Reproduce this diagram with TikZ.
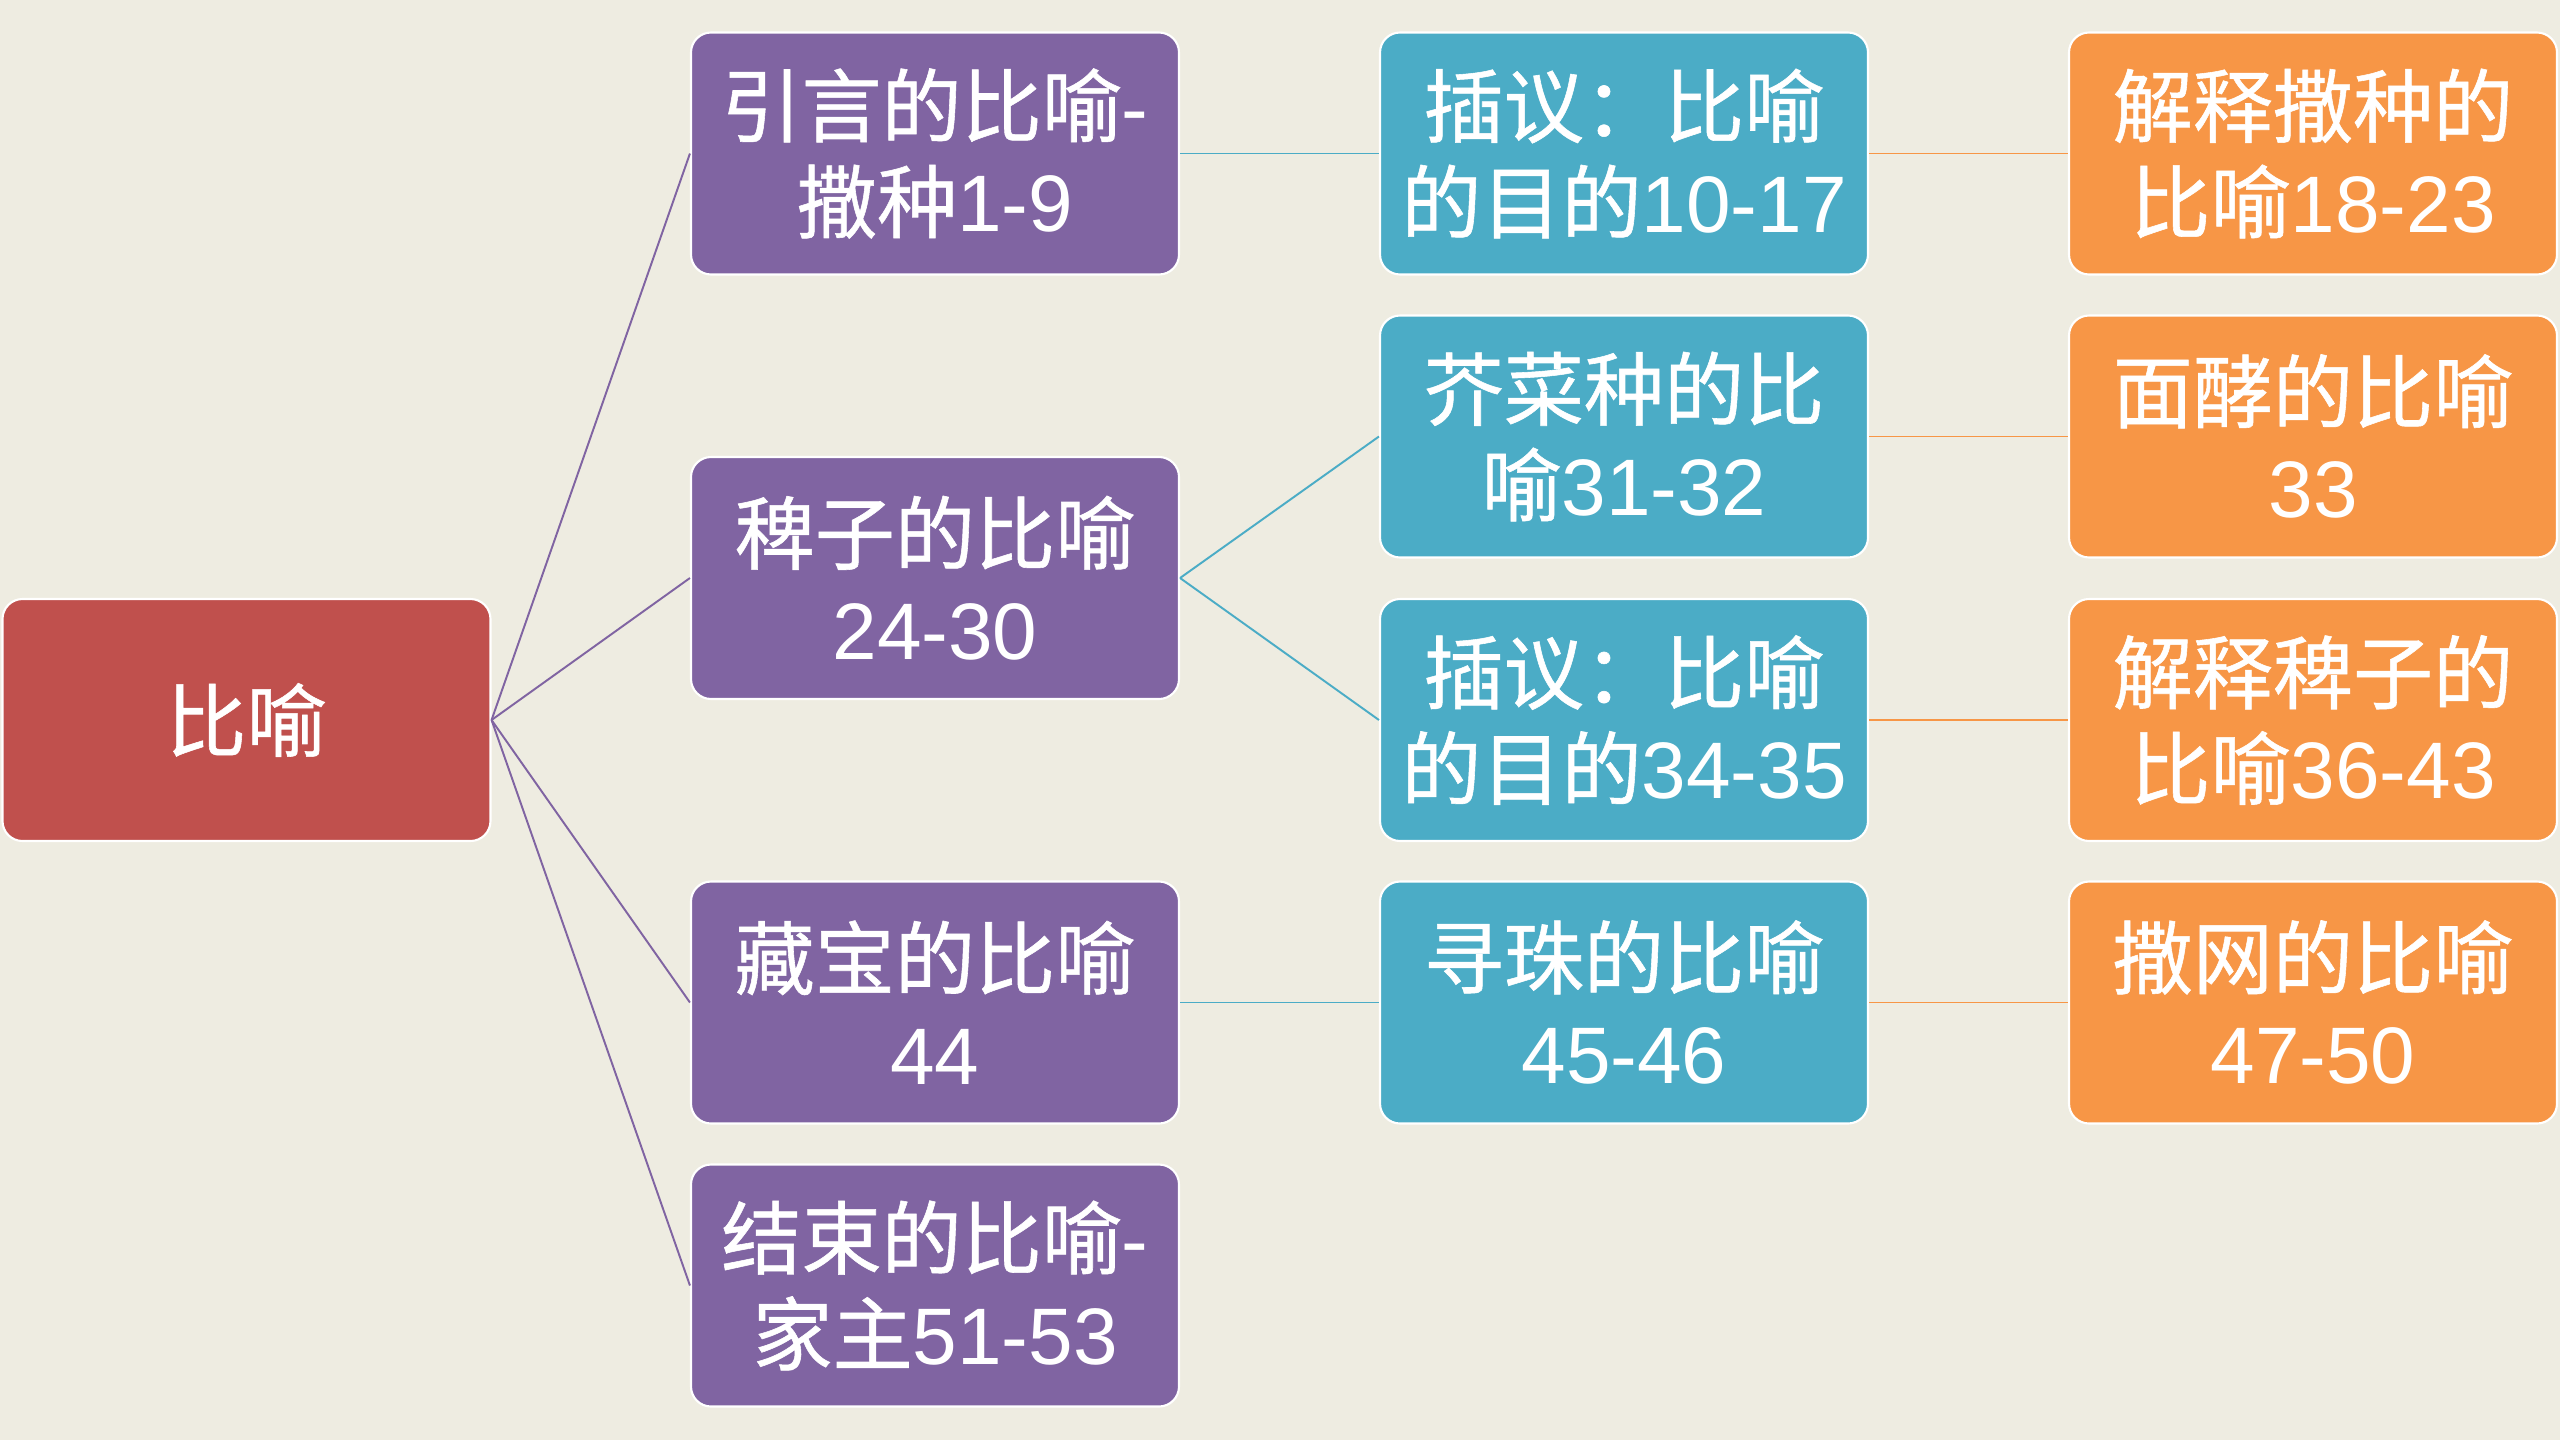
\documentclass[tikz,border=0pt]{standalone}
\usepackage{fontspec}
\setmainfont{Liberation Sans}
\newfontfamily\cjk[FakeBold=0.7]{Noto Sans CJK SC}
\definecolor{bgpaper}{HTML}{EEECE1}
\definecolor{rootred}{HTML}{C0504D}
\definecolor{parpurple}{HTML}{8064A2}
\definecolor{parblue}{HTML}{4BACC6}
\definecolor{parorange}{HTML}{F79646}

\begin{document}
\begin{tikzpicture}
   \tikzstyle{every node}=[draw=white, line width=0.6pt, rounded corners=0.2cm, minimum width=4.88cm, minimum height=2.42cm, align=center, text=white, font=\fontsize{22.8}{27.3}\selectfont]
   \tikzstyle{root}=[fill=rootred]
   \tikzstyle{purplebox}=[fill=parpurple]
   \tikzstyle{bluebox}=[fill=parblue]
   \tikzstyle{orangebox}=[fill=parorange]
   \tikzstyle{link}=[line width=0.55pt]

\fill[bgpaper] (0,0) rectangle (25.6,-14.4);
\useasboundingbox (0,0) rectangle (25.6,-14.4);

\node[root] (bi) at (2.465,-7.2) {\cjk 比喻};

% first level
\node[purplebox] (yin) at (9.35,-1.535) {{\cjk 引言的比喻}-\\{\cjk 撒种}1-9};
\node[purplebox] (bai) at (9.35,-5.78) {{\cjk 稗子的比喻}\\24-30};
\node[purplebox] (cang) at (9.35,-10.025) {{\cjk 藏宝的比喻}\\44};
\node[purplebox] (jie) at (9.35,-12.855) {{\cjk 结束的比喻}-\\{\cjk 家主}51-53};

% second level
\node[bluebox] (cha1) at (16.24,-1.535) {{\cjk 插议：比喻}\\{\cjk 的目的}10-17};
\node[bluebox] (jiecai) at (16.24,-4.365) {{\cjk 芥菜种的比}\\{\cjk 喻}31-32};
\node[bluebox] (cha2) at (16.24,-7.2) {{\cjk 插议：比喻}\\{\cjk 的目的}34-35};
\node[bluebox] (xun) at (16.24,-10.025) {{\cjk 寻珠的比喻}\\45-46};

% third level
\node[orangebox] (jiesa) at (23.13,-1.535) {{\cjk 解释撒种的}\\{\cjk 比喻}18-23};
\node[orangebox] (mian) at (23.13,-4.365) {{\cjk 面酵的比喻}\\33};
\node[orangebox] (jiebai) at (23.13,-7.2) {{\cjk 解释稗子的}\\{\cjk 比喻}36-43};
\node[orangebox] (sa) at (23.13,-10.025) {{\cjk 撒网的比喻}\\47-50};

\draw[link, parpurple] (bi.east) -- (yin.west);
\draw[link, parpurple] (bi.east) -- (bai.west);
\draw[link, parpurple] (bi.east) -- (cang.west);
\draw[link, parpurple] (bi.east) -- (jie.west);

\draw[link, parblue] (yin.east) -- (cha1.west);
\draw[link, parblue] (bai.east) -- (jiecai.west);
\draw[link, parblue] (bai.east) -- (cha2.west);
\draw[link, parblue] (cang.east) -- (xun.west);

\draw[link, parorange] (cha1.east) -- (jiesa.west);
\draw[link, parorange] (jiecai.east) -- (mian.west);
\draw[link, parorange] (cha2.east) -- (jiebai.west);
\draw[link, parorange] (xun.east) -- (sa.west);

\end{tikzpicture}
\end{document}
